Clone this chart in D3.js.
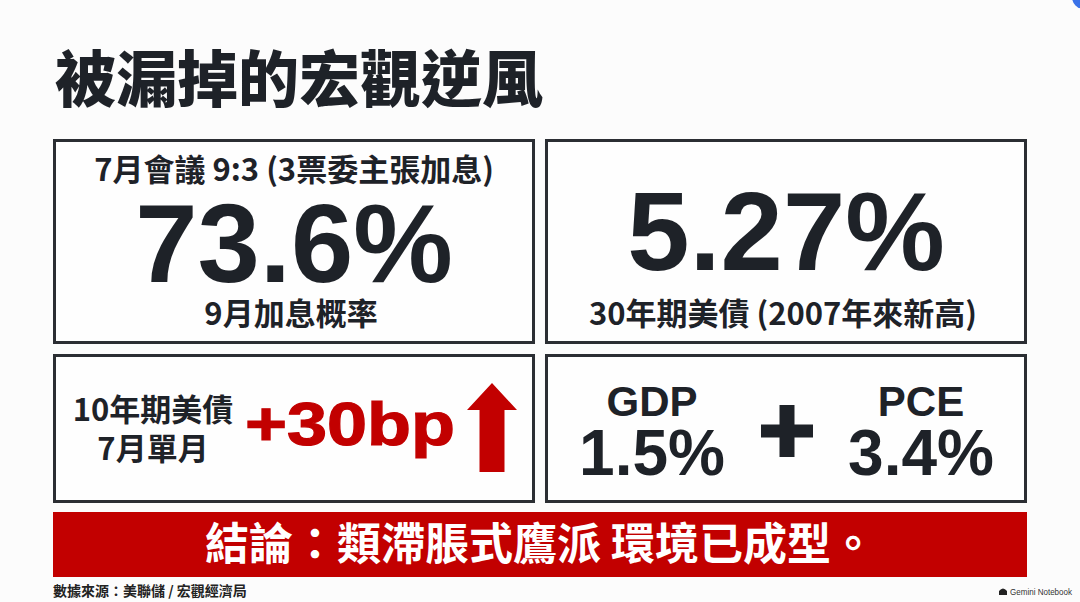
<!DOCTYPE html>
<html>
<head>
<meta charset="utf-8">
<script src="https://cdn.jsdelivr.net/npm/d3@7"></script>
<style>
  html, body { margin: 0; padding: 0; background: #fcfcfc; }
  svg { display: block; }
</style>
</head>
<body>
<svg></svg>
<script>
const title = '被漏掉的宏觀逆風';
const meetingNote = '7月會議 9:3 (3票委主張加息)';
const headlineValues = [73.6, 5.27];
const headlineFormats = ['.1f', '.2f'];
const headlineLabels = ['9月加息概率', '30年期美債 (2007年來新高)'];
const yieldLabelLines = ['10年期美債', '7月單月'];
const yieldChangeBp = 30;
const macroNames = ['GDP', 'PCE'];
const macroValues = [1.5, 3.4];
const conclusion = '結論：類滯脹式鷹派 環境已成型。';
const sourceNote = '數據來源：美聯儲 / 宏觀經濟局';
const brand = 'Gemini Notebook';

window.onload = () => {
  const width = 1080;
  const height = 602;
  const ink = '#1e2228';
  const red = '#c20000';
  const cjk = '"Noto Sans CJK TC", "Noto Sans CJK SC", sans-serif';
  const latin = '"Liberation Sans", Arial, sans-serif';

  const svg = d3.select('svg').attr('width', width).attr('height', height);
  svg.append('rect').attr('width', width).attr('height', height).attr('fill', '#fcfcfc');

  // little blue badge peeking in at the top right corner
  svg.append('circle').attr('cx', 1084).attr('cy', -3).attr('r', 12).attr('fill', '#3a72e8');

  // two columns of panels
  const col = d3.scaleBand().domain([0, 1]).range([53, 1027]).paddingInner(0.0203);
  const rows = [{y: 139, h: 205}, {y: 354, h: 149}];

  svg.append('text')
      .attr('x', 55).attr('y', 102)
      .attr('font-family', cjk).attr('font-weight', 900).attr('font-size', 61)
      .attr('fill', ink)
      .text(title);

  const panels = [];
  rows.forEach(r => col.domain().forEach(c => panels.push({c: c, y: r.y, h: r.h})));

  svg.selectAll('rect.panel')
    .data(panels)
    .join('rect')
      .attr('class', 'panel')
      .attr('x', d => col(d.c) + 1.5)
      .attr('y', d => d.y + 1.5)
      .attr('width', col.bandwidth() - 3)
      .attr('height', d => d.h - 3)
      .attr('fill', '#fefefe')
      .attr('stroke', '#2b2e33')
      .attr('stroke-width', 3);

  const mid = c => col(c) + col.bandwidth() / 2;

  // top row: headline numbers
  svg.append('text')
      .attr('x', mid(0)).attr('y', 181)
      .attr('text-anchor', 'middle')
      .attr('font-family', cjk).attr('font-weight', 700).attr('font-size', 31)
      .attr('fill', ink)
      .text(meetingNote);

  svg.selectAll('text.big')
    .data(headlineValues)
    .join('text')
      .attr('class', 'big')
      .attr('x', (d, i) => mid(i))
      .attr('y', (d, i) => i === 0 ? 282 : 270)
      .attr('text-anchor', 'middle')
      .attr('font-family', latin).attr('font-weight', 700).attr('font-size', 112)
      .attr('fill', ink)
      .text((d, i) => d3.format(headlineFormats[i])(d) + '%');

  svg.selectAll('text.biglabel')
    .data(headlineLabels)
    .join('text')
      .attr('class', 'biglabel')
      .attr('x', (d, i) => mid(i) - 3)
      .attr('y', 325)
      .attr('text-anchor', 'middle')
      .attr('font-family', cjk).attr('font-weight', 700).attr('font-size', 31)
      .attr('fill', ink)
      .text(d => d);

  // bottom left: 10y move
  svg.selectAll('text.ylabel')
    .data(yieldLabelLines)
    .join('text')
      .attr('class', 'ylabel')
      .attr('x', 153)
      .attr('y', (d, i) => 421 + i * 39)
      .attr('text-anchor', 'middle')
      .attr('font-family', cjk).attr('font-weight', 700).attr('font-size', 31)
      .attr('fill', ink)
      .text(d => d);

  svg.append('text')
      .attr('x', 245).attr('y', 445)
      .attr('font-family', latin).attr('font-weight', 700).attr('font-size', 62)
      .attr('textLength', 210).attr('lengthAdjust', 'spacingAndGlyphs')
      .attr('fill', red)
      .attr('stroke', red).attr('stroke-width', 1.2)
      .text('+' + yieldChangeBp + 'bp');

  const arrow = d3.path();
  const ax = 492, top = 383, headY = 410, bottom = 472, headW = 25, shaftW = 12.5;
  arrow.moveTo(ax, top);
  arrow.lineTo(ax + headW, headY);
  arrow.lineTo(ax + shaftW, headY);
  arrow.lineTo(ax + shaftW, bottom);
  arrow.lineTo(ax - shaftW, bottom);
  arrow.lineTo(ax - shaftW, headY);
  arrow.lineTo(ax - headW, headY);
  arrow.closePath();
  svg.append('path').attr('d', arrow.toString()).attr('fill', red);

  // bottom right: GDP + PCE
  const macroX = d3.scalePoint().domain(macroNames).range([mid(1) - 134, mid(1) + 135]);

  svg.selectAll('text.mname')
    .data(macroNames)
    .join('text')
      .attr('class', 'mname')
      .attr('x', d => macroX(d))
      .attr('y', 416)
      .attr('text-anchor', 'middle')
      .attr('font-family', latin).attr('font-weight', 700).attr('font-size', 42)
      .attr('fill', ink)
      .text(d => d);

  svg.selectAll('text.mval')
    .data(macroValues)
    .join('text')
      .attr('class', 'mval')
      .attr('x', (d, i) => macroX(macroNames[i]))
      .attr('y', 475)
      .attr('text-anchor', 'middle')
      .attr('font-family', latin).attr('font-weight', 700).attr('font-size', 64)
      .attr('fill', ink)
      .text(d => d3.format('.1f')(d) + '%');

  const px = mid(1) + 1, py = 431, arm = 26, thick = 15;
  svg.append('rect').attr('x', px - thick / 2).attr('y', py - arm).attr('width', thick).attr('height', arm * 2).attr('fill', ink);
  svg.append('rect').attr('x', px - arm).attr('y', py - 6.5).attr('width', arm * 2).attr('height', 13).attr('fill', ink);

  // conclusion banner
  svg.append('rect')
      .attr('x', 53).attr('y', 512)
      .attr('width', 974).attr('height', 65)
      .attr('fill', red);

  svg.append('text')
      .attr('x', 540).attr('y', 560)
      .attr('text-anchor', 'middle')
      .attr('font-family', cjk).attr('font-weight', 700).attr('font-size', 44)
      .attr('fill', '#ffffff')
      .text(conclusion);

  svg.append('text')
      .attr('x', 53).attr('y', 596)
      .attr('font-family', cjk).attr('font-weight', 700).attr('font-size', 14)
      .attr('fill', '#222')
      .text(sourceNote);

  // brand mark
  svg.append('path')
      .attr('d', 'M999,595 L999,591 Q1003,586 1007,591 L1007,595 Z')
      .attr('fill', '#222');
  svg.append('text')
      .attr('x', 1072).attr('y', 594.5)
      .attr('text-anchor', 'end')
      .attr('font-family', latin).attr('font-size', 8.5)
      .attr('textLength', 62).attr('lengthAdjust', 'spacingAndGlyphs')
      .attr('fill', '#333')
      .text(brand);
};
</script>
</body>
</html>
